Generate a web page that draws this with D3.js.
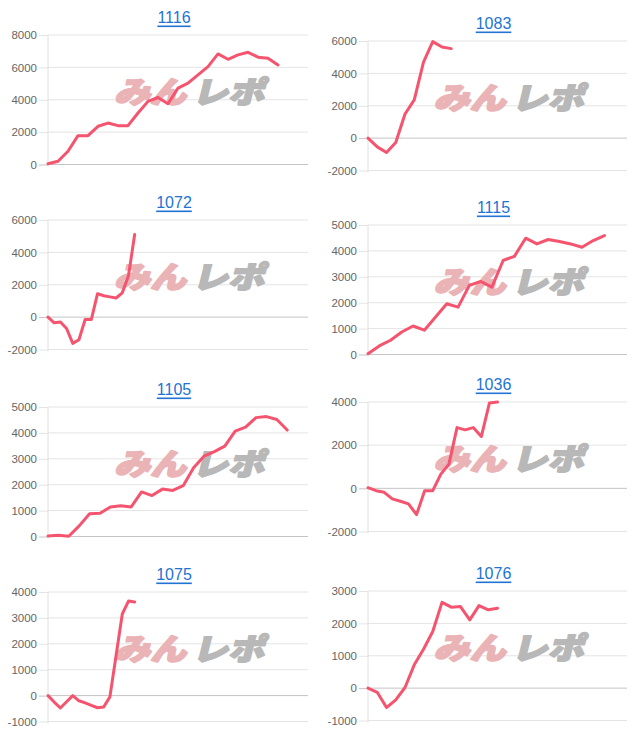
<!DOCTYPE html>
<html><head><meta charset="utf-8">
<script src="https://cdn.jsdelivr.net/npm/d3@7"></script>
<style>body{margin:0;background:#fff}svg{display:block}</style>
</head><body>
<script>
// ---- data ----
const titles = ["1116","1083","1072","1115","1105","1036","1075","1076"];
const slotCounts = [27,29,43,24,26,33,43,29];
const yMins  = [0,-2000,-2000,0,0,-2000,-1000,-1000];
const yMaxs  = [8000,6000,6000,5000,5000,4000,4000,3000];
const ySteps = [2000,2000,2000,1000,1000,2000,1000,1000];

const s1116 = [50,200,820,1780,1780,2360,2560,2400,2400,3180,3900,4140,3750,4720,5030,5540,6050,6830,6500,6770,6930,6630,6560,6150];
const s1083 = [0,-540,-890,-270,1490,2360,4700,5960,5630,5530];
const s1072 = [0,-350,-300,-700,-1620,-1400,-150,-150,1450,1320,1250,1180,1500,2550,5100];
const s1115 = [30,330,550,870,1100,940,1450,1960,1830,2670,2820,2600,3630,3790,4490,4270,4440,4360,4270,4140,4400,4590];
const s1105 = [20,50,10,410,880,900,1140,1190,1140,1720,1580,1830,1780,1960,2650,3100,3280,3490,4070,4220,4590,4630,4520,4110];
const s1036 = [30,-110,-185,-490,-600,-720,-1215,-110,-110,660,1120,2815,2710,2815,2400,3950,4000];
const s1075 = [0,-250,-480,-240,0,-200,-280,-380,-470,-440,-50,1550,3150,3650,3610];
const s1076 = [0,-130,-600,-360,20,720,1200,1750,2650,2500,2520,2110,2550,2420,2470];
const series = [s1116,s1083,s1072,s1115,s1105,s1036,s1075,s1076];

// ---- layout ----
const W = 640, H = 745;
const titleY = [17,23,202,207,389,384,574,573];
const colLeft = [48,368], colRight = [308,627];
const plotGap = 18, plotH = 129.5;
const lineColor = "#f5546f";
const font = "'Liberation Sans', Arial, Helvetica, sans-serif";

const svg = d3.select("body").append("svg").attr("width", W).attr("height", H);

titles.forEach((t, i) => {
  const col = i % 2;
  const x0 = colLeft[col], x1 = colRight[col];
  const top = titleY[i] + plotGap, bottom = top + plotH;
  const x = d3.scaleLinear().domain([0, slotCounts[i] - 1]).range([x0, x1]);
  const y = d3.scaleLinear().domain([yMins[i], yMaxs[i]]).range([bottom, top]);
  const ticks = d3.range(yMins[i], yMaxs[i] + 1, ySteps[i]);
  const g = svg.append("g");

  // title
  g.append("text").attr("x", (x0 + x1) / 2 - 4).attr("y", titleY[i])
    .attr("text-anchor", "middle").attr("dominant-baseline", "central")
    .attr("font-family", font).attr("font-size", 16).attr("fill", "#2274d3")
    .style("text-decoration", "underline").text(t);

  // y axis via d3.axisLeft
  const axis = d3.axisLeft(y).tickValues(ticks).tickSize(9).tickPadding(2)
    .tickFormat(v => String(v));
  const ag = g.append("g").attr("transform", `translate(${x0},0)`).call(axis);
  ag.select(".domain").remove();
  ag.selectAll(".tick text").attr("font-family", font).attr("font-size", 11.5).attr("fill", "#666");
  ag.selectAll(".tick line").attr("stroke", d => d === 0 ? "#c4c4c4" : "#e4e4e4");
  // grid lines
  g.selectAll("line.grid").data(ticks).enter().append("line")
    .attr("x1", x0).attr("x2", x1).attr("y1", d => y(d)).attr("y2", d => y(d))
    .attr("stroke", d => d === 0 ? "#c4c4c4" : "#e4e4e4").attr("stroke-width", 1);
  // left axis line
  g.append("line").attr("x1", x0).attr("x2", x0).attr("y1", top).attr("y2", bottom + 2)
    .attr("stroke", "#e0e0e0");

  // watermark
  const cx = (x0 + x1) / 2 + 13, cy = (top + bottom) / 2 - 8;
  const wm = g.append("g").attr("transform", `translate(${cx},${cy}) skewX(-14) scale(1,0.88)`);
  wm.append("text").attr("x", -2).attr("y", 13).attr("text-anchor", "end")
    .attr("font-family", "'Noto Sans CJK JP', sans-serif").attr("font-weight", 900)
    .attr("font-size", 34).attr("fill", "#eab3b6").attr("stroke", "#eab3b6").attr("stroke-width", 2.2)
    .attr("stroke-linejoin", "round")
    .attr("textLength", 72).attr("lengthAdjust", "spacingAndGlyphs").text("みん");
  wm.append("text").attr("x", 4).attr("y", 13).attr("text-anchor", "start")
    .attr("font-family", "'Noto Sans CJK JP', sans-serif").attr("font-weight", 900)
    .attr("font-size", 34).attr("fill", "#b8b8b8").attr("stroke", "#b8b8b8").attr("stroke-width", 2.2)
    .attr("stroke-linejoin", "round")
    .attr("textLength", 72).attr("lengthAdjust", "spacingAndGlyphs").text("レポ");

  // line
  const line = d3.line().x((d, k) => x(k)).y(d => y(d));
  g.append("path").datum(series[i]).attr("d", line)
    .attr("fill", "none").attr("stroke", lineColor).attr("stroke-width", 3)
    .attr("stroke-linejoin", "round").attr("stroke-linecap", "round");
});
</script>
</body></html>
